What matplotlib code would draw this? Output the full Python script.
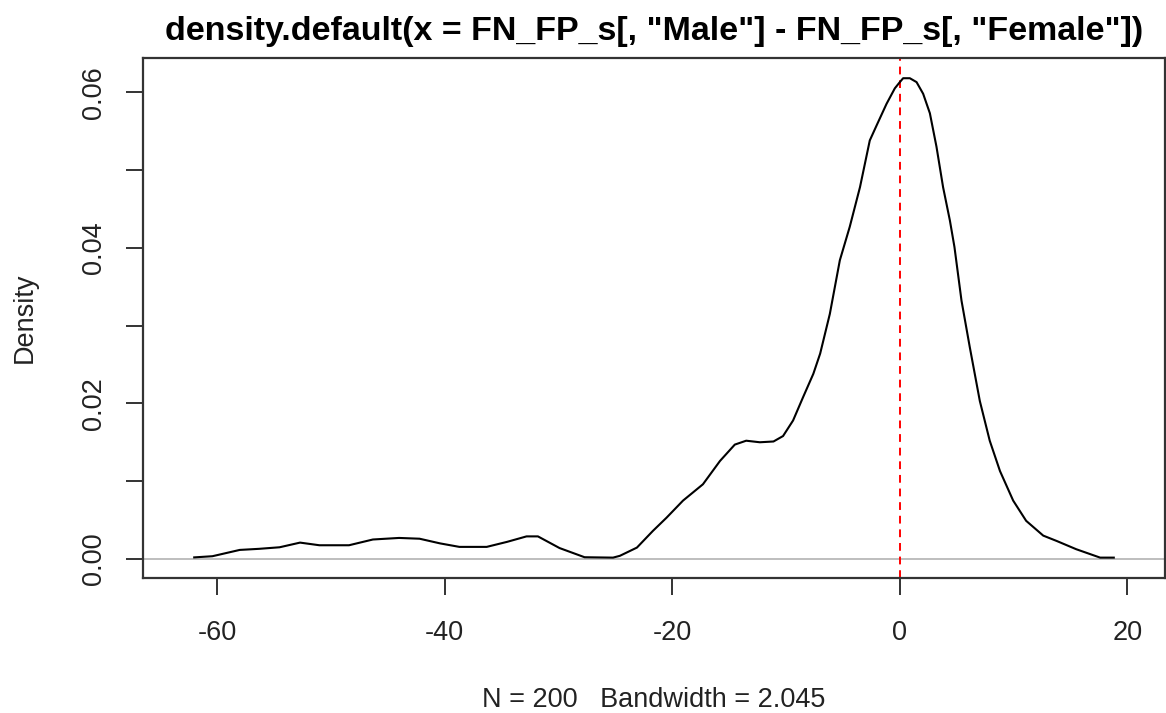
import numpy as np
import matplotlib.pyplot as plt

plt.rcParams['font.family'] = ['Liberation Sans', 'DejaVu Sans']
plt.rcParams['axes.unicode_minus'] = False

# Kernel density estimate of the Male - Female difference
diff_x = [-62.0, -60.4, -58.0, -56.3, -54.5, -52.7, -51.0, -48.4, -46.3, -44.0,
          -42.2, -40.4, -38.7, -36.3, -34.5, -32.8, -31.8, -29.9, -27.7, -25.2,
          -24.6, -23.1, -21.7, -20.5, -19.05, -17.3, -15.8, -14.5, -13.5, -12.3,
          -11.1, -10.26, -9.38, -8.5, -7.6, -7.0, -6.15, -5.27, -4.4, -3.5,
          -2.64, -2.05, -1.17, -0.44, 0.0, 0.29, 0.88, 1.47, 2.05, 2.64,
          3.22, 3.8, 4.4, 4.8, 5.42, 6.15, 7.03, 7.9, 8.8, 9.96,
          11.1, 12.6, 13.8, 15.5, 17.6, 18.8]
density = [0.20, 0.35, 1.16, 1.30, 1.50, 2.10, 1.76, 1.76, 2.50, 2.70,
           2.60, 2.00, 1.55, 1.55, 2.20, 2.90, 2.90, 1.40, 0.22, 0.17,
           0.40, 1.46, 3.60, 5.30, 7.50, 9.60, 12.6, 14.7, 15.2, 15.0,
           15.1, 15.8, 17.8, 20.8, 23.8, 26.4, 31.5, 38.4, 42.7, 47.8,
           53.8, 55.7, 58.5, 60.5, 61.3, 61.8, 61.8, 61.3, 59.8, 57.3,
           53.0, 47.8, 43.5, 40.1, 33.2, 27.2, 20.3, 15.2, 11.3, 7.5,
           4.9, 3.0, 2.3, 1.25, 0.17, 0.17]
density = np.array(density) / 1000

n_obs = 200
bandwidth = 2.045

fig = plt.figure(figsize=(11.66, 7.13), dpi=100)
ax = fig.add_axes([143 / 1166, 1 - 578 / 713, (1165 - 143) / 1166, (578 - 58) / 713])

ax.axhline(0, color='#bebebe', lw=1.4, zorder=1)
ax.plot(diff_x, density, color='black', lw=1.5, zorder=3)
ax.axvline(0, color='red', lw=1.4, ls=(0, (4, 3)), zorder=2)

ax.set_xlim(-66.5, 23.3)
ax.set_ylim(-0.00245, 0.0644)

ax.set_xticks([-60, -40, -20, 0, 20])
ax.set_yticks([0, 0.01, 0.02, 0.03, 0.04, 0.05, 0.06])
ax.set_yticklabels(['0.00', '', '0.02', '', '0.04', '', '0.06'],
                   rotation=90, va='center')
ax.tick_params(axis='both', length=12, width=1.4, color='#333333',
               labelsize=19.5, labelcolor='#222222', pad=14)
ax.tick_params(axis='x', pad=18)

for s in ax.spines.values():
    s.set_linewidth(1.6)
    s.set_color('#333333')

ax.set_title('density.default(x = FN_FP_s[, "Male"] - FN_FP_s[, "Female"])',
             fontsize=24.5, fontweight='bold', pad=13)
ax.set_ylabel('Density', fontsize=19.5, labelpad=31, color='#222222')
ax.set_xlabel(f'N = {n_obs}   Bandwidth = {bandwidth}', fontsize=19.5,
              labelpad=30, color='#222222')

fig.savefig('out.png', dpi=100)
